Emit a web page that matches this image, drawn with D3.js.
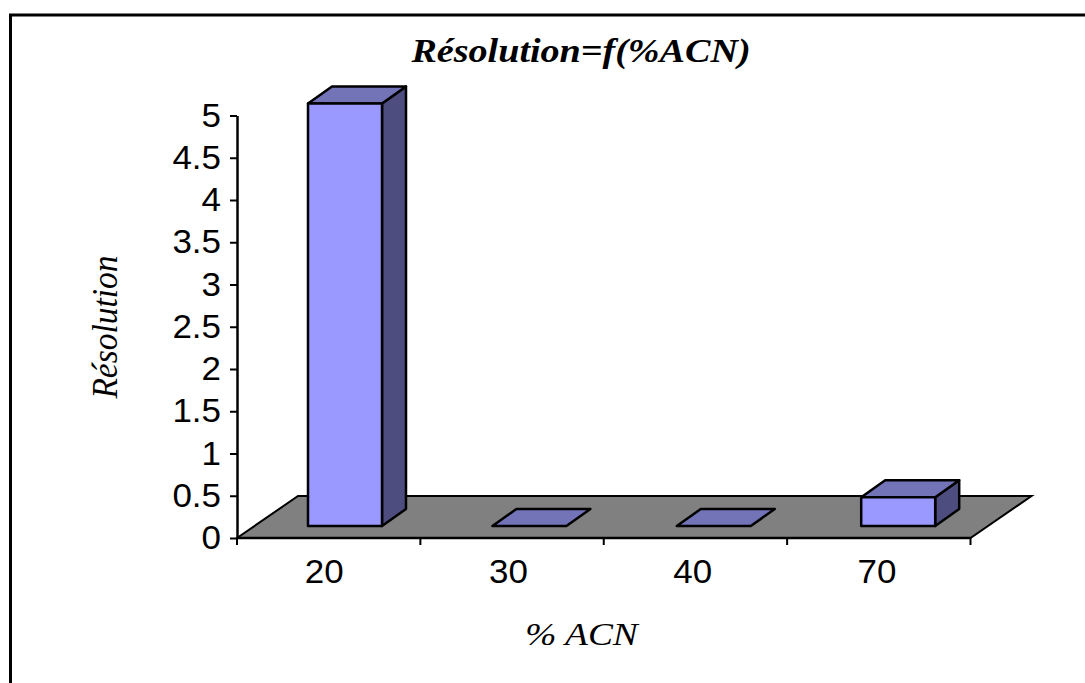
<!DOCTYPE html>
<html>
<head>
<meta charset="utf-8">
<script src="https://cdn.jsdelivr.net/npm/d3@7"></script>
<style>
  html, body { margin: 0; padding: 0; background: #fff; overflow: hidden; }
  svg { display: block; }
</style>
</head>
<body>
<svg width="1085" height="683"></svg>
<script>
const categories = ["20", "30", "40", "70"]
const values = [5, 0, 0, 0.34]
const yTicks = [0, 0.5, 1, 1.5, 2, 2.5, 3, 3.5, 4, 4.5, 5]

const svg = d3.select("svg")

// outer frame, no right or bottom edge in the picture
svg.append("path")
    .attr("d", "M10.5,690V15H1090")
    .attr("fill", "none")
    .attr("stroke", "#000")
    .attr("stroke-width", 3)

const margin = {left: 237, right: 970.5, top: 115.5, bottom: 538}

const x = d3.scaleBand()
    .domain(categories)
    .range([margin.left, margin.right])

const y = d3.scaleLinear()
    .domain([0, 5])
    .range([margin.bottom, margin.top])

// bars and labels do not sit quite on the tick intervals
const barX = d3.scaleBand().domain(categories).range([308, 1045.6])
const labelX = d3.scaleBand().domain(categories).range([232, 969])

// depth of the 3d effect
const dx = 61, dy = 42
const barDx = 24, barDy = 17
const barInset = 12   // distance from the front edge of the floor to the bar
const barWidth = 74

// floor
svg.append("path")
    .attr("d", `M${margin.left},${margin.bottom}L${margin.left + dx},${margin.bottom - dy}H${margin.right + dx}L${margin.right},${margin.bottom}Z`)
    .attr("fill", "#808080")
    .attr("stroke", "#000")
    .attr("stroke-width", 2)

const bars = svg.append("g")
    .selectAll("g")
    .data(categories.map((c, i) => ({cat: c, value: values[i]})))
    .join("g")
    .attr("stroke", "#000")
    .attr("stroke-width", 2.5)
    .attr("stroke-linejoin", "round")

const baseY = margin.bottom - barInset
const topY = d => y(d.value) - barInset

// side
bars.filter(d => d.value > 0).append("path")
    .attr("fill", "#4d4d80")
    .attr("d", d => {
      const r = barX(d.cat) + barWidth
      return `M${r},${baseY}L${r + barDx},${baseY - barDy}V${topY(d) - barDy}L${r},${topY(d)}Z`
    })

// top
bars.append("path")
    .attr("fill", "#7373b8")
    .attr("d", d => {
      const l = barX(d.cat), t = topY(d)
      return `M${l},${t}L${l + barDx},${t - barDy}H${l + barWidth + barDx}L${l + barWidth},${t}Z`
    })

// front
bars.filter(d => d.value > 0).append("rect")
    .attr("fill", "#9999ff")
    .attr("x", d => barX(d.cat))
    .attr("y", d => topY(d))
    .attr("width", barWidth)
    .attr("height", d => baseY - topY(d))

// axes
const xLabels = svg.append("g")
    .attr("transform", `translate(0,${margin.bottom})`)
    .call(d3.axisBottom(labelX).tickSize(0).tickPadding(22))

xLabels.select(".domain").remove()

const xAxis = svg.append("g")
    .attr("transform", `translate(0,${margin.bottom})`)

xAxis.append("line")
    .attr("x1", margin.left).attr("x2", margin.right)
    .attr("stroke", "#000")
    .attr("stroke-width", 2.5)

xAxis.selectAll("line.tick")
    .data(d3.range(categories.length + 1))
    .join("line")
    .attr("class", "tick")
    .attr("x1", i => margin.left + i * x.bandwidth())
    .attr("x2", i => margin.left + i * x.bandwidth())
    .attr("y1", 0).attr("y2", 7)
    .attr("stroke", "#000")
    .attr("stroke-width", 2)

const yAxis = svg.append("g")
    .attr("transform", `translate(${margin.left},0)`)
    .call(d3.axisLeft(y).tickValues(yTicks).tickFormat(d3.format("")).tickSize(7).tickPadding(9).tickSizeOuter(0))

yAxis.selectAll("path.domain").attr("stroke", "#000").attr("stroke-width", 2.5)
yAxis.selectAll(".tick line").attr("stroke", "#000").attr("stroke-width", 2)

// the picture is stretched sideways, so the tick text is too
const tickStretch = 1.06
for (const a of [xLabels, yAxis]) {
  a.selectAll("text")
    .attr("font-family", "'Liberation Sans', Arial, sans-serif")
    .attr("font-size", 33)
    .attr("fill", "#000")
    .attr("x", function() { return +d3.select(this).attr("x") / tickStretch })
    .attr("transform", `scale(${tickStretch},1)`)
}

const serif = "'Liberation Serif', 'Times New Roman', serif"

svg.append("text")
    .attr("transform", "translate(581,62) scale(1.155,1)")
    .attr("text-anchor", "middle")
    .attr("font-family", serif)
    .attr("font-size", 33)
    .attr("font-weight", "bold")
    .attr("font-style", "italic")
    .text("Résolution=f(%ACN)")

svg.append("text")
    .attr("transform", "translate(117,327) rotate(-90) scale(0.93,1)")
    .attr("text-anchor", "middle")
    .attr("font-family", serif)
    .attr("font-size", 36)
    .attr("font-style", "italic")
    .text("Résolution")

svg.append("text")
    .attr("transform", "translate(581.5,645) scale(1.17,1)")
    .attr("text-anchor", "middle")
    .attr("font-family", serif)
    .attr("font-size", 32)
    .attr("font-style", "italic")
    .text("% ACN")
</script>
</body>
</html>
